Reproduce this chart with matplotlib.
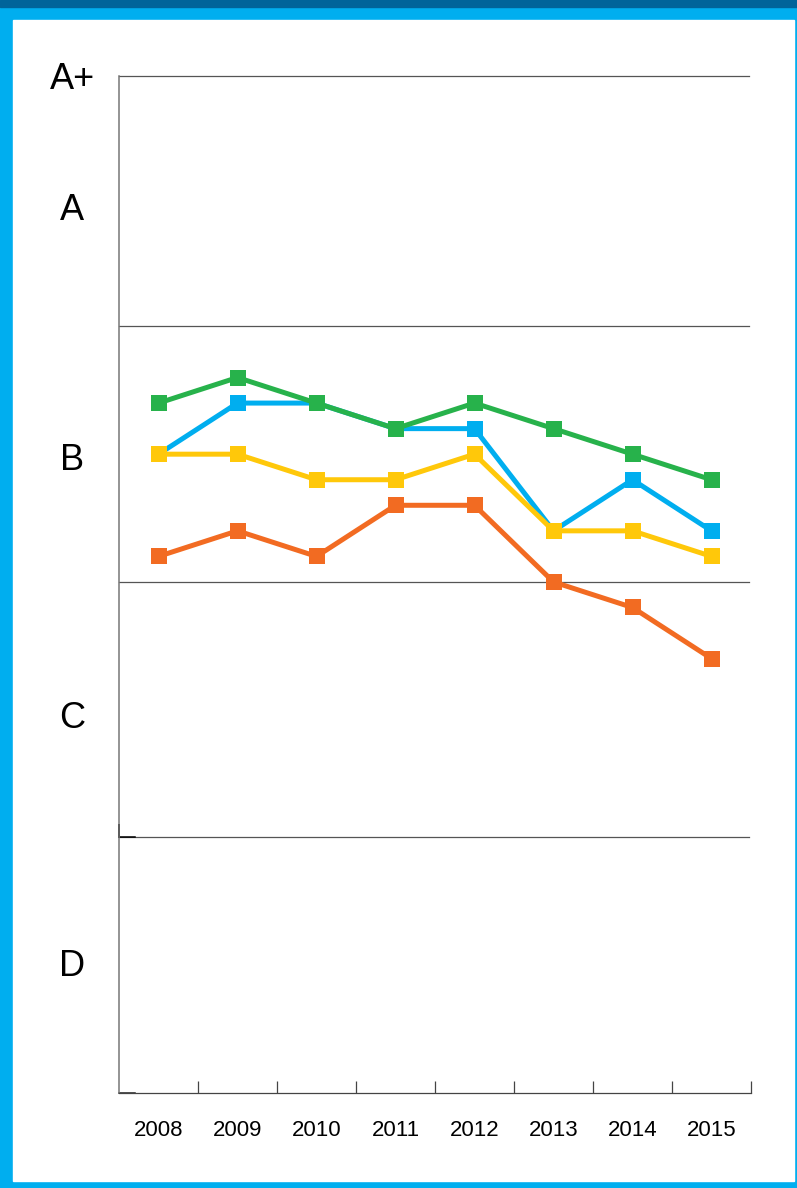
"""
Grade trend chart, 2008-2015, four series on an A+..D scale.
"""
import matplotlib
matplotlib.use("Agg")
import matplotlib.pyplot as plt
from matplotlib.patches import Rectangle
import matplotlib.transforms as mtransforms

plt.rcParams['font.family'] = ['Liberation Sans', 'DejaVu Sans']

# Data (grade scale: D=0-10, C=10-20, B=20-30, A=30-40, A+ at the top)
years = ['2008', '2009', '2010', '2011', '2012', '2013', '2014', '2015']
green = [27, 28, 27, 26, 27, 26, 25, 24]
blue = [25, 27, 27, 26, 26, 22, 24, 22]
yellow = [25, 25, 24, 24, 25, 22, 22, 21]
orange = [21, 22, 21, 23, 23, 20, 19, 17]
grade_labels = ['A+', 'A', 'B', 'C', 'D']
grade_pos = [39.8, 34.7, 24.9, 14.8, 5.1]

BORDER = '#00AEEF'
TOPBAR = '#00649A'
COLORS = {'blue': '#00AEEF', 'green': '#27B24B', 'yellow': '#FFC80A', 'orange': '#F26B22'}
YMAX = 39.8

W, H = 797, 1188
fig = plt.figure(figsize=(W / 100, H / 100), dpi=100)

# frame
fig.patches.append(Rectangle((0, 0), 1, 1, transform=fig.transFigure, color=BORDER, zorder=-3))
fig.patches.append(Rectangle((13 / W, 7 / H), (794 - 13) / W, (1181 - 20) / H,
                             transform=fig.transFigure, color='white', zorder=-2))
fig.patches.append(Rectangle((0, 1 - 7 / H), 1, 7 / H, transform=fig.transFigure,
                             color=TOPBAR, zorder=-2))

left, right, top, bottom = 119, 751, 76, 1093
ax = fig.add_axes([left / W, 1 - bottom / H, (right - left) / W, (bottom - top) / H])
ax.set_facecolor('none')

x = [i + 0.5 for i in range(len(years))]
series = [('blue', blue), ('green', green), ('yellow', yellow), ('orange', orange)]
for name, vals in series:
    ax.plot(x, vals, color=COLORS[name], lw=3.6, marker='s', ms=11.5,
            markeredgewidth=0, solid_joinstyle='miter', zorder=3)

ax.set_xlim(0, len(years))
ax.set_ylim(0, YMAX)

# grade band lines
for yv in [10, 20, 30, YMAX]:
    ax.plot([0, 7.97], [yv, yv], color='#555555', lw=0.9, zorder=1, clip_on=False)

for s in ['top', 'right']:
    ax.spines[s].set_visible(False)
ax.spines['left'].set_color('#777777')
ax.spines['left'].set_linewidth(1.1)
ax.spines['bottom'].set_color('#444444')
ax.spines['bottom'].set_linewidth(0.9)

# small dark marks at the axis corners
ax.plot([0, 0.2], [10, 10], color='black', lw=1.1, zorder=2, clip_on=False)
ax.plot([0, 0], [10, 10.47], color='black', lw=1.4, zorder=2, clip_on=False)
ax.plot([0, 0.2], [0, 0], color='#222222', lw=1.1, zorder=2, clip_on=False)

ax.set_xticks(range(1, len(years) + 1))
ax.set_xticklabels([])
ax.tick_params(axis='x', direction='in', length=9, width=0.9, color='#444444')
ax.set_yticks([])

for xi, lab in zip(x, years):
    ax.text(xi, -37 / 25.55, lab, ha='center', va='center', fontsize=16)

trans = mtransforms.blended_transform_factory(fig.transFigure, ax.transData)
for lab, yv in zip(grade_labels, grade_pos):
    ax.text(72 / W, yv - 0.15, lab, transform=trans, ha='center', va='center', fontsize=26)

fig.savefig('out.png', dpi=100)
